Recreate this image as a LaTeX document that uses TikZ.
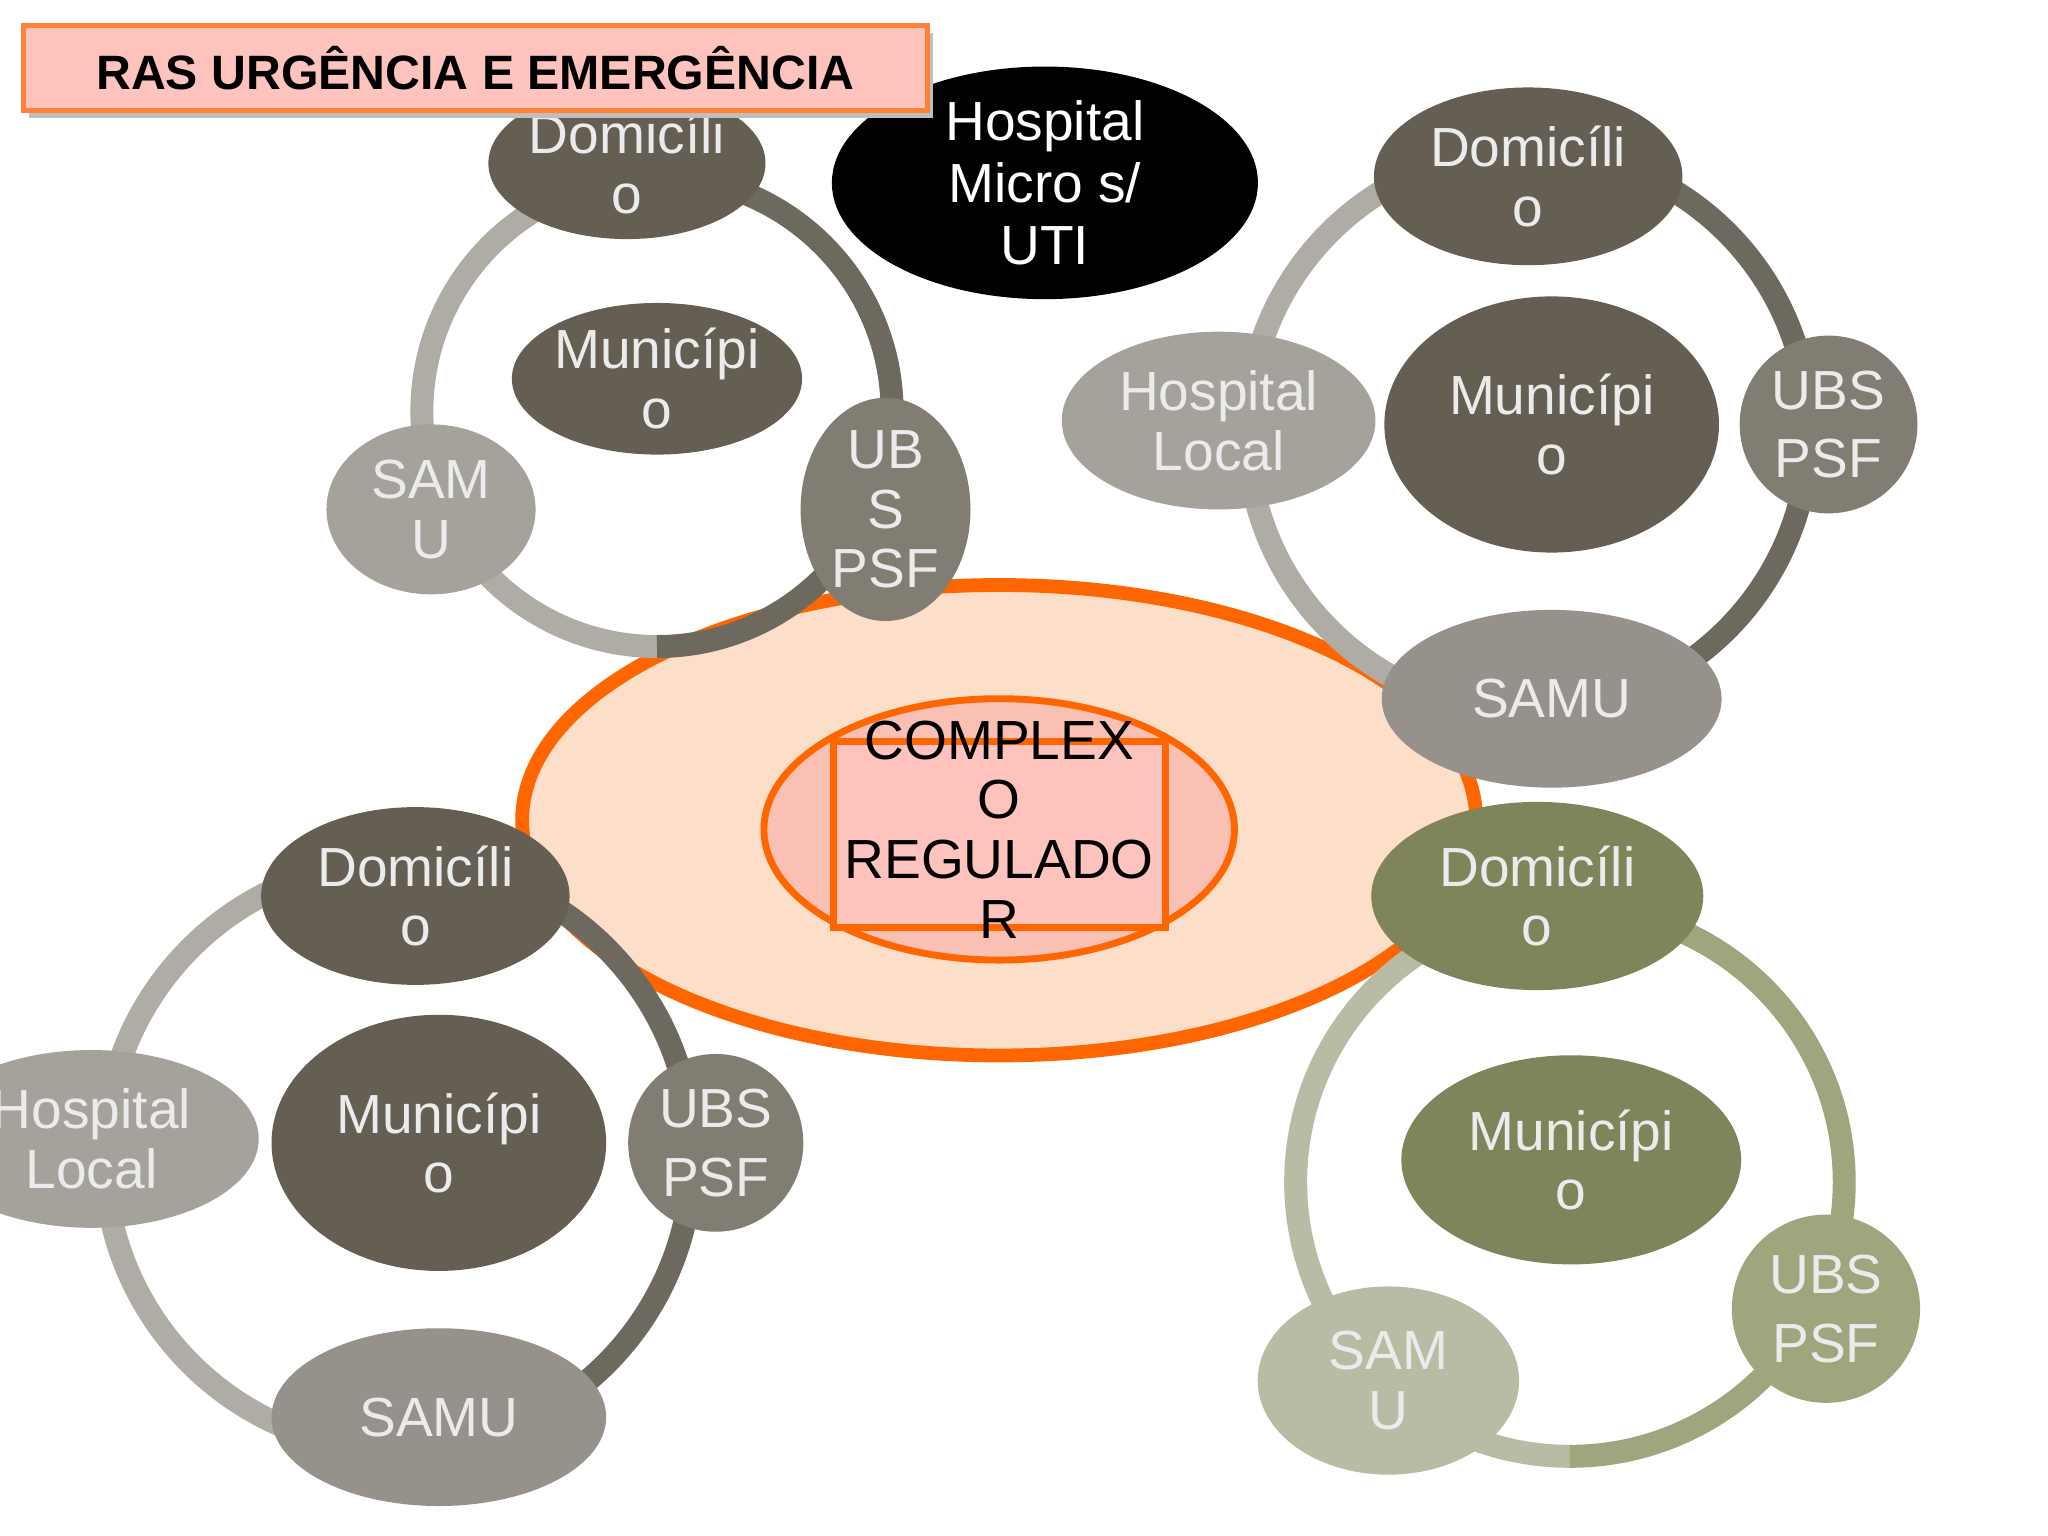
\documentclass[tikz,border=0pt]{standalone}
\usepackage{fontspec}
\setmainfont{Liberation Sans}
\usetikzlibrary{shapes.geometric}
\definecolor{dk}{RGB}{100,95,82}
\definecolor{md}{RGB}{130,125,115}
\definecolor{lt}{RGB}{165,162,155}
\definecolor{sm}{RGB}{150,145,138}
\definecolor{ol}{RGB}{128,132,90}
\definecolor{olm}{RGB}{160,165,125}
\definecolor{oll}{RGB}{185,187,165}
\definecolor{orng}{RGB}{255,102,0}
\definecolor{peach}{RGB}{253,222,200}
\definecolor{pinkf}{RGB}{250,192,180}
\definecolor{pinkr}{RGB}{255,195,190}
\definecolor{ringl}{RGB}{175,172,165}
\definecolor{ringd}{RGB}{110,105,95}
\tikzset{
 el/.style={ellipse, inner sep=0pt, text=white!92!black, align=center, font=\fontsize{12}{13}\selectfont},
 ring/.style={line width=5pt},
}
\newcommand{\E}[6]{\node[el, minimum width=#3*0.02cm, minimum height=#4*0.02cm, fill=#5] (#6) at (#1,#2)}
\begin{document}
\begin{tikzpicture}[x=0.01cm,y=-0.01cm]
\useasboundingbox (0,0) rectangle (1568,1176);
% big ellipse
\node[ellipse, minimum width=7.3cm, minimum height=3.6cm, fill=peach, draw=orng, line width=3pt] (big) at (765,628) {};
% cluster 1 ring
\draw[ring, ringl] (503,315) ++(90:180) arc[start angle=90,end angle=270,radius=180];
\draw[ring, ringd] (503,315) ++(270:180) arc[start angle=-90,end angle=90,radius=180];
\E{480}{125}{105}{58}{dk}{d1} {Domicíli\\o};
\E{503}{290}{108}{58}{dk}{m1} {Municípi\\o};
\E{330}{390}{80}{65}{lt}{s1} {SAM\\U};
\E{678}{390}{65}{65}{md}{u1} {UB\\S\\PSF};
% hospital micro
\node[ellipse, minimum width=3.26cm, minimum height=1.56cm, fill=black, text=white, align=center, inner sep=0pt, font=\fontsize{12}{13.5}\selectfont] (hm) at (800,140) {Hospital\\Micro s/\\UTI};
% center
\node[ellipse, minimum width=3.6cm, minimum height=2.0cm, fill=pinkf, draw=orng, line width=1.5pt] (ce) at (765,635) {};
\node[rectangle, minimum width=2.54cm, minimum height=1.42cm, fill=pinkr, draw=orng, line width=1.5pt] (cr) at (765,639) {};
\node[align=center, font=\fontsize{12}{13}\selectfont] (ct) at (765,635) {COMPLEX\\O\\REGULADO\\R};
% cluster 2
\draw[ring, ringl] (1170,330) ++(90:215) arc[start angle=90,end angle=270,radius=215];
\draw[ring, ringd] (1170,330) ++(270:215) arc[start angle=-90,end angle=90,radius=215];
\E{1170}{135}{118}{68}{dk}{d2} {Domicíli\\o};
\E{1188}{325}{128}{98}{dk}{m2} {Municípi\\o};
\E{933}{322}{120}{68}{lt}{h2} {Hospital\\Local};
\E{1400}{325}{68}{68}{md}{u2} {UBS\\[2pt]PSF};
\E{1188}{535}{130}{68}{sm}{s2} {SAMU};
% cluster 3
\draw[ring, ringl] (305,885) ++(90:225) arc[start angle=90,end angle=270,radius=225];
\draw[ring, ringd] (305,885) ++(270:225) arc[start angle=-90,end angle=90,radius=225];
\E{318}{686}{118}{68}{dk}{d3} {Domicíli\\o};
\E{336}{875}{128}{98}{dk}{m3} {Municípi\\o};
\E{70}{872}{128}{68}{lt}{h3} {Hospital\\Local};
\E{548}{875}{67}{68}{md}{u3} {UBS\\[2pt]PSF};
\E{336}{1085}{128}{68}{sm}{s3} {SAMU};
% cluster 4
\draw[ring, oll] (1202,905) ++(90:210) arc[start angle=90,end angle=270,radius=210];
\draw[ring, olm] (1202,905) ++(270:210) arc[start angle=-90,end angle=90,radius=210];
\E{1177}{686}{127}{72}{ol}{d4} {Domicíli\\o};
\E{1203}{888}{130}{80}{ol}{m4} {Municípi\\o};
\E{1063}{1057}{100}{72}{oll}{s4} {SAM\\U};
\E{1398}{1002}{72}{72}{olm}{u4} {UBS\\[2pt]PSF};
% title
\fill[black!25] (22,25) rectangle (714,90);
\node[rectangle, minimum width=6.92cm, minimum height=0.65cm, fill=pinkr, draw=orng!70!pinkr, line width=1pt, font=\bfseries\fontsize{10.5}{12}\selectfont] (title) at (364,52) {RAS URGÊNCIA E EMERGÊNCIA};
\end{tikzpicture}
\end{document}
